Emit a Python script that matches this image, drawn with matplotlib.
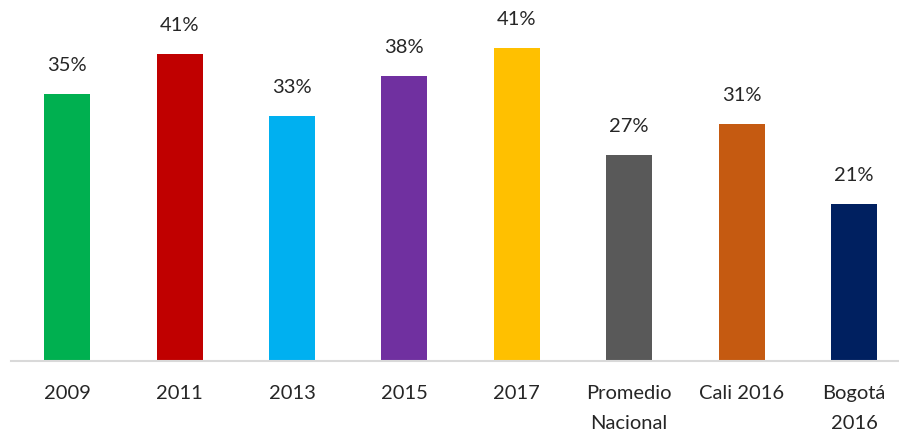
import matplotlib
matplotlib.use('Agg')
import matplotlib.pyplot as plt

plt.rcParams['font.family'] = ['Lato', 'DejaVu Sans']

categories = ['2009', '2011', '2013', '2015', '2017', 'Promedio\nNacional', 'Cali 2016', 'Bogotá\n2016']
values = [35.0, 40.3, 32.2, 37.4, 41.1, 27.1, 31.1, 20.6]
value_labels = ['35%', '41%', '33%', '38%', '41%', '27%', '31%', '21%']
colors = ['#00B050', '#C00000', '#00B0F0', '#7030A0', '#FFC000', '#595959', '#C55A11', '#002060']

fig = plt.figure(figsize=(8.99, 4.32), dpi=100)
ax = fig.add_axes([11 / 899, 71 / 432, 888 / 899, 361 / 432])

x = range(len(categories))
bars = ax.bar(x, values, width=0.41, color=colors)

for bar, lab in zip(bars, value_labels):
    ax.annotate(lab, (bar.get_x() + bar.get_width() / 2, bar.get_height()),
                xytext=(0, 20.5), textcoords='offset points',
                ha='center', va='center', fontsize=14.5, color='#262626')

ax.set_xlim(-0.5, 7.4)
ax.set_ylim(0, 47.4)
ax.set_xticks(list(x))
ax.set_xticklabels(categories, fontsize=14.5, color='#262626', linespacing=1.95, va='top')
ax.tick_params(axis='x', length=0, pad=17)
ax.set_yticks([])
for s in ['top', 'right', 'left']:
    ax.spines[s].set_visible(False)
ax.spines['bottom'].set_color('#D9D9D9')
ax.spines['bottom'].set_linewidth(1.5)

fig.savefig('out.png', dpi=100)
